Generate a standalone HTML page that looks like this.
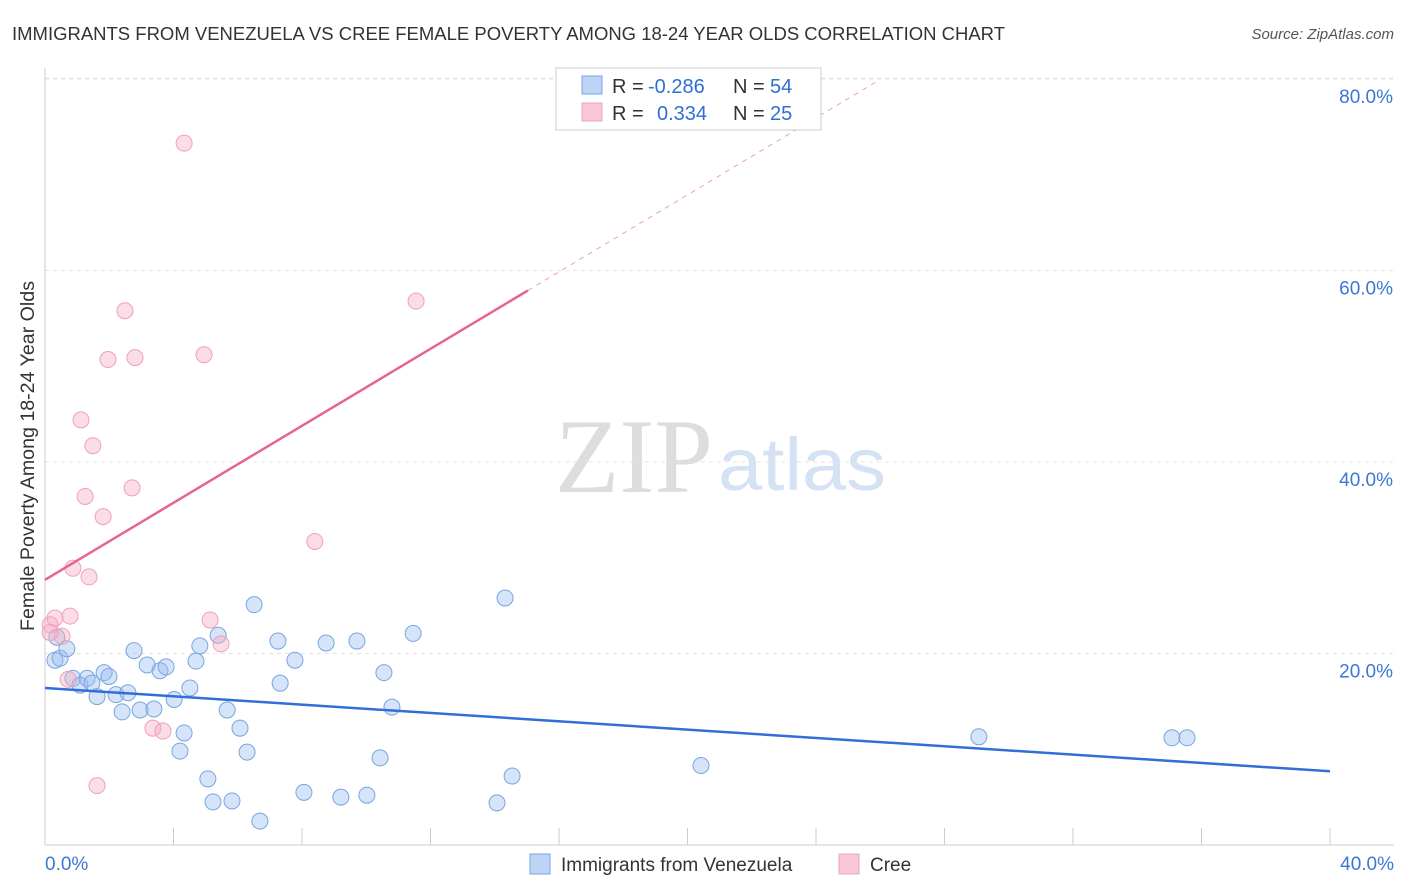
<!DOCTYPE html>
<html><head><meta charset="utf-8"><style>
body{margin:0;background:#fff;font-family:"Liberation Sans",sans-serif}
svg{display:block}
</style></head><body>
<svg id="c" width="1406" height="892">
<text x="12" y="40" font-size="18" fill="#333" textLength="993" lengthAdjust="spacingAndGlyphs">IMMIGRANTS FROM VENEZUELA VS CREE FEMALE POVERTY AMONG 18-24 YEAR OLDS CORRELATION CHART</text>
<text x="1394" y="39" font-size="15" fill="#555" font-style="italic" text-anchor="end">Source: ZipAtlas.com</text>
<text x="555" y="492" font-size="106" fill="#ddd" font-family="Liberation Serif,serif" textLength="158" lengthAdjust="spacingAndGlyphs">ZIP</text>
<text x="718" y="490" font-size="74" fill="#d4e2f4" textLength="168" lengthAdjust="spacingAndGlyphs">atlas</text>
<text transform="translate(34,456) rotate(-90)" font-size="19" fill="#333" text-anchor="middle" textLength="350" lengthAdjust="spacingAndGlyphs">Female Poverty Among 18-24 Year Olds</text>
<g id="grid"></g><g id="marks"></g>
<g>
<rect x="556" y="68" width="265" height="62" fill="#fff" stroke="#ccc"/>
<rect x="582" y="76" width="20" height="18" fill="#bcd4f6" stroke="#7aa5e0"/>
<rect x="582" y="103" width="20" height="18" fill="#f8c8d6" stroke="#f0a0b8"/>
<text x="612" y="93" font-size="20" fill="#333">R = <tspan x="648" fill="#2f6fd6">-0.286</tspan><tspan x="733">N = </tspan><tspan x="770" fill="#2f6fd6">54</tspan></text>
<text x="612" y="120" font-size="20" fill="#333">R = <tspan x="657" fill="#2f6fd6">0.334</tspan><tspan x="733">N = </tspan><tspan x="770" fill="#2f6fd6">25</tspan></text>
</g>
<g>
<rect x="530" y="854" width="20" height="20" fill="#bcd4f6" stroke="#7aa5e0"/>
<text x="561" y="871" font-size="19" fill="#333">Immigrants from Venezuela</text>
<rect x="839" y="854" width="20" height="20" fill="#f8c8d6" stroke="#f0a0b8"/>
<text x="870" y="871" font-size="19" fill="#333">Cree</text>
</g>
</svg>
<script>
const blueX=[0.31,0.47,0.68,0.37,0.87,1.09,1.31,1.46,1.62,1.84,1.99,2.40,2.21,2.58,2.77,2.96,3.18,3.39,3.58,3.77,4.02,4.20,4.33,4.51,4.70,4.82,5.07,5.23,5.39,5.67,5.82,6.07,6.29,6.51,6.69,7.25,7.32,7.78,8.06,8.75,9.21,9.71,10.02,10.43,10.55,10.80,11.46,14.07,14.32,14.54,20.42,29.07,35.08,35.55];
const blueY=[19.3,19.5,20.5,21.7,17.4,16.7,17.4,16.9,15.5,18.0,17.6,13.9,15.7,15.9,20.3,14.1,18.8,14.2,18.2,18.6,15.2,9.8,11.7,16.4,19.2,20.8,6.9,4.5,21.9,14.1,4.6,12.2,9.7,25.1,2.5,21.3,16.9,19.3,5.5,21.1,5.0,21.3,5.2,9.1,18.0,14.4,22.1,4.4,25.8,7.2,8.3,11.3,11.2,11.2];
const pinkX=[0.16,0.31,0.53,0.78,0.87,1.37,0.72,1.25,1.12,1.49,1.81,1.96,2.49,2.80,2.71,4.33,4.95,5.14,5.48,3.36,3.67,1.62,8.40,11.55,0.16];
const pinkY=[23.0,23.7,21.8,23.9,28.9,28.0,17.3,36.4,44.4,41.7,34.3,50.7,55.8,50.9,37.3,73.3,51.2,23.5,21.0,12.2,11.9,6.2,31.7,56.8,22.2];
const blueTrend=[16.4,7.7];
const pinkTrend=[27.7,2.01];
const yTicks=[20,40,60,80];
const xTickVals=[0,4,8,12,16,20,24,28,32,36,40];
const NS='http://www.w3.org/2000/svg';
const sx=v=>45+v*32.125, sy=v=>845-v*9.575;
function mk(t,a,p){const e=document.createElementNS(NS,t);for(const k in a)e.setAttribute(k,a[k]);p.appendChild(e);return e;}
const g=document.getElementById('grid'),m=document.getElementById('marks');
mk('line',{x1:45,y1:78,x2:1394,y2:78,stroke:'#e4e4e4','stroke-dasharray':'4,4'},g);
yTicks.forEach(v=>{
 const l=mk('line',{x1:45,y1:sy(v),x2:1394,y2:sy(v),stroke:'#e4e4e4','stroke-dasharray':'4,4'},g);
 
 
 const t=mk('text',{x:1393,y:sy(v)+24,'font-size':19,fill:'#3a78d6','text-anchor':'end'},g);t.textContent=v+'.0%';
 
 
});
mk('line',{x1:45,y1:68,x2:45,y2:845,stroke:'#ccc'},g);
mk('line',{x1:45,y1:845,x2:1394,y2:845,stroke:'#ccc'},g);
xTickVals.forEach(v=>{const l=mk('line',{x1:sx(v),y1:828,x2:sx(v),y2:845,stroke:'#ccc'},g);
 
 });
let t=mk('text',{x:45,y:870,'font-size':19,fill:'#3a78d6'},g);t.textContent='0.0%';


t=mk('text',{x:1394,y:870,'font-size':19,fill:'#3a78d6','text-anchor':'end'},g);t.textContent='40.0%';


blueX.forEach((x,i)=>{const c=mk('circle',{cx:sx(x),cy:sy(blueY[i]),r:8,fill:'rgba(150,188,240,0.4)',stroke:'#7aa5e0','stroke-width':1},m);
 
 });
pinkX.forEach((x,i)=>{const c=mk('circle',{cx:sx(x),cy:sy(pinkY[i]),r:8,fill:'rgba(245,170,195,0.4)',stroke:'#f0a0b8','stroke-width':1},m);
 
 });
let l=mk('line',{x1:sx(0),y1:sy(blueTrend[0]),x2:sx(40),y2:sy(blueTrend[1]),stroke:'#2f6fd6','stroke-width':2.5},m);


const pe=15.03,pd=25.9;
l=mk('line',{x1:sx(0),y1:sy(pinkTrend[0]),x2:sx(pe),y2:sy(pinkTrend[0]+pinkTrend[1]*pe),stroke:'#e8648f','stroke-width':2.5},m);


l=mk('line',{x1:sx(pe),y1:sy(pinkTrend[0]+pinkTrend[1]*pe),x2:sx(pd),y2:sy(pinkTrend[0]+pinkTrend[1]*pd),stroke:'#eaa0b8','stroke-width':1,'stroke-dasharray':'5,5'},m);


</script>
</body></html>
